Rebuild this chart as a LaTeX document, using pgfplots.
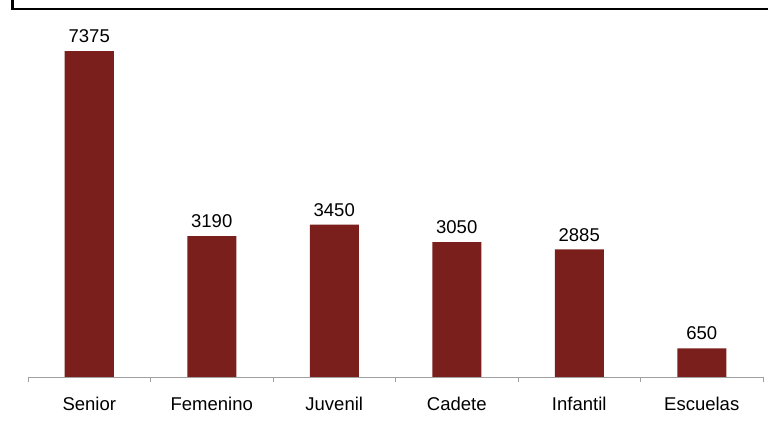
\documentclass[border=0pt]{standalone}
\usepackage{pgfplots}
\pgfplotsset{compat=1.18}
\usepackage{fontspec}
\setmainfont{Liberation Sans}
\definecolor{barred}{RGB}{123,31,29}
\definecolor{axgray}{RGB}{160,160,160}
\begin{document}
\begin{tikzpicture}[x=1pt,y=1pt]
\useasboundingbox (0,0) rectangle (768,423);
\draw[line width=2.2pt] (12.5,423) -- (12.5,414) -- (768,414);
\begin{axis}[
	at={(28pt,46pt)},anchor=south west,
	scale only axis,width=735pt,height=353.6pt,
	xmin=-0.5,xmax=5.5,ymin=0,ymax=8000,
	hide y axis,axis x line*=bottom,
	axis line style={axgray,line width=0.8pt},
	xtick={0,...,5},
	xticklabels={Senior,Femenino,Juvenil,Cadete,Infantil,Escuelas},
	major tick length=0pt,
	minor xtick={-0.5,0.5,...,5.5},
	minor tick length=5pt,tick align=outside,
	minor tick style={axgray,line width=0.8pt},
	xticklabel style={anchor=base,yshift=-34pt,font=\fontsize{18.5}{20}\selectfont},
	ybar,bar width=49pt,clip=false,
	nodes near coords,
	nodes near coords style={anchor=south,inner sep=0pt,yshift=8pt,font=\fontsize{18.5}{20}\selectfont},
	/pgf/number format/assume math mode=true,
	/pgf/number format/1000 sep={},
	]
\addplot[fill=barred,draw=none] coordinates {
	(0,7375) (1,3190) (2,3450) (3,3050) (4,2885) (5,650)};
\end{axis}
\end{tikzpicture}
\end{document}
